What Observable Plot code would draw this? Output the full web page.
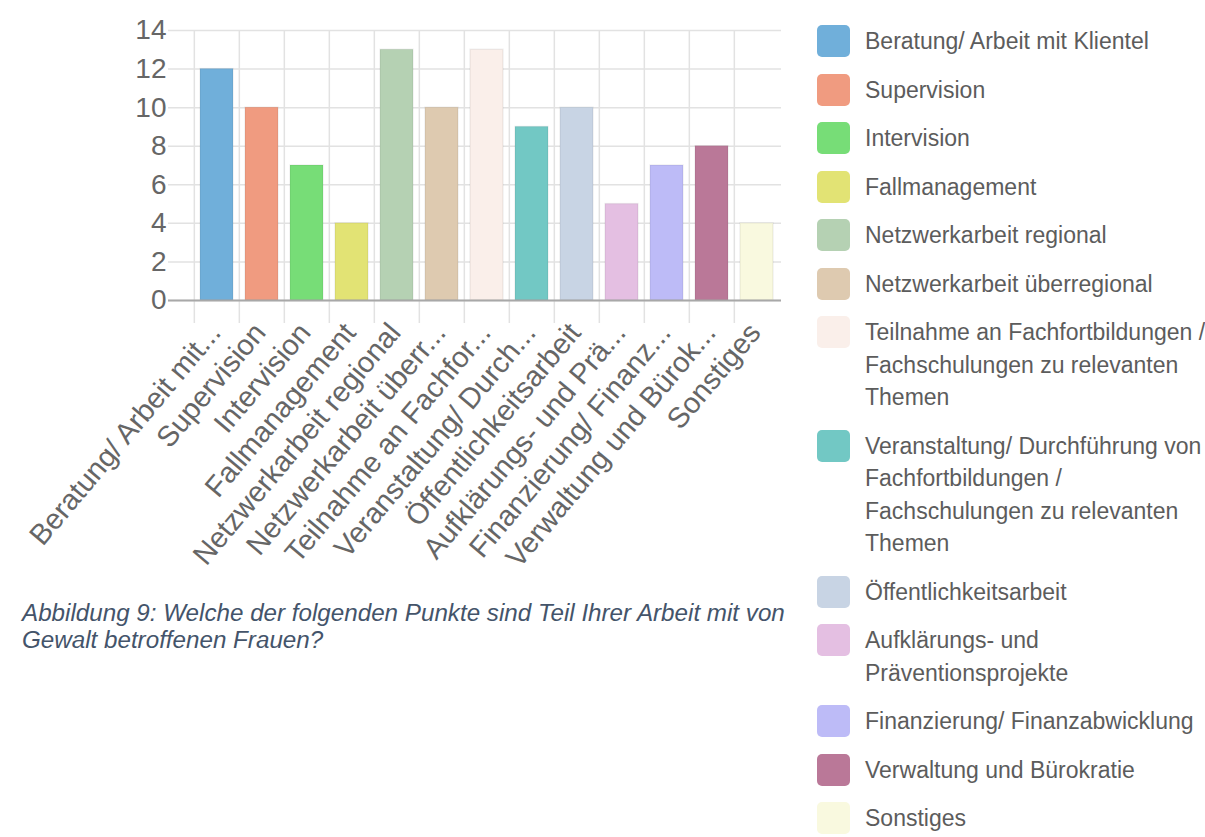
<!DOCTYPE html>
<html>
<head>
<meta charset="utf-8">
<script src="https://cdn.jsdelivr.net/npm/d3@7"></script>
<script src="https://cdn.jsdelivr.net/npm/@observablehq/plot@0.6"></script>
<style>
  html, body { margin: 0; padding: 0; background: #fff; overflow: hidden; width: 1205px; height: 837px; }
  body { font-family: "Liberation Sans", Arial, sans-serif; position: relative; }
  #chart { position: absolute; left: 0; top: 0; }
  #legend { position: absolute; left: 817px; top: 25px; }
  .item { display: flex; align-items: flex-start; margin-bottom: 16px; }
  .sw { width: 33px; height: 32px; border-radius: 5px; flex: none; margin-right: 15px; margin-top: 0px; }
  .lbl { width: 350px; font-size: 23px; line-height: 32.5px; color: #5c5c5c; }
  #caption { position: absolute; left: 22px; top: 599px; font-style: italic; font-size: 24.2px; line-height: 27px; color: #44546a; white-space: nowrap; }
</style>
</head>
<body>
<div id="chart"></div>
<div id="legend"></div>
<div id="caption">Abbildung 9: Welche der folgenden Punkte sind Teil Ihrer Arbeit mit von<br>Gewalt betroffenen Frauen?</div>
<script>
const categories = [
  "Beratung/ Arbeit mit Klientel",
  "Supervision",
  "Intervision",
  "Fallmanagement",
  "Netzwerkarbeit regional",
  "Netzwerkarbeit überregional",
  "Teilnahme an Fachfortbildungen / Fachschulungen zu relevanten Themen",
  "Veranstaltung/ Durchführung von Fachfortbildungen / Fachschulungen zu relevanten Themen",
  "Öffentlichkeitsarbeit",
  "Aufklärungs- und Präventionsprojekte",
  "Finanzierung/ Finanzabwicklung",
  "Verwaltung und Bürokratie",
  "Sonstiges"
];
const values = [12, 10, 7, 4, 13, 10, 13, 9, 10, 5, 7, 8, 4];
const tickLabels = [
  "Beratung/ Arbeit mit...",
  "Supervision",
  "Intervision",
  "Fallmanagement",
  "Netzwerkarbeit regional",
  "Netzwerkarbeit überr...",
  "Teilnahme an Fachfor...",
  "Veranstaltung/ Durch...",
  "Öffentlichkeitsarbeit",
  "Aufklärungs- und Prä...",
  "Finanzierung/ Finanz...",
  "Verwaltung und Bürok...",
  "Sonstiges"
];
const colors = [
  "#70afda", "#f09b80", "#77dd77", "#e2e374", "#b5d1b3", "#decab0", "#faefea",
  "#72c8c4", "#c8d4e4", "#e4bfe2", "#bdbbf7", "#ba7898", "#f9f9df"
];
const yTicks = [0, 2, 4, 6, 8, 10, 12, 14];

const data = categories.map((c, i) => ({category: c, value: values[i]}));

const W = 790, H = 595, mL = 192, mR = 9, mT = 30, mB = 295;
const step = (W - mL - mR) / categories.length;

const chart = Plot.plot({
  width: W,
  height: H,
  marginLeft: mL,
  marginRight: mR,
  marginTop: mT,
  marginBottom: mB,
  style: {fontFamily: "'Liberation Sans', Arial, sans-serif", color: "#666", background: "transparent"},
  x: {domain: categories, paddingInner: 0.27, paddingOuter: 0.135, axis: null},
  y: {domain: [0, 14], axis: null},
  color: {domain: categories, range: colors},
  marks: [
    Plot.ruleY(yTicks, {stroke: "#e2e2e2", strokeWidth: 1.5, insetLeft: -24}),
    Plot.ruleX(categories, {x: d => d, dx: -step / 2, stroke: "#e2e2e2", strokeWidth: 1.5, insetBottom: -23}),
    Plot.barY(data, {x: "category", y: "value", fill: "category", stroke: "#000", strokeOpacity: 0.06, strokeWidth: 1.5}),
    Plot.ruleY([0], {stroke: "#a8a8a8", strokeWidth: 2, insetLeft: -24}),
    Plot.axisY({ticks: yTicks, tickSize: 0, tickPadding: 26, fontSize: 28, label: null, fill: "#666"}),
    Plot.axisX({tickSize: 0, tickPadding: 27, tickRotate: -50, fontSize: 29, label: null, fill: "#666", dx: -2,
      tickFormat: d => tickLabels[categories.indexOf(d)]})
  ]
});
document.getElementById("chart").appendChild(chart);

const legend = document.getElementById("legend");
categories.forEach((c, i) => {
  const item = document.createElement("div");
  item.className = "item";
  const sw = document.createElement("div");
  sw.className = "sw";
  sw.style.background = colors[i];
  const lbl = document.createElement("div");
  lbl.className = "lbl";
  lbl.textContent = c;
  item.appendChild(sw);
  item.appendChild(lbl);
  legend.appendChild(item);
});
</script>
</body>
</html>
